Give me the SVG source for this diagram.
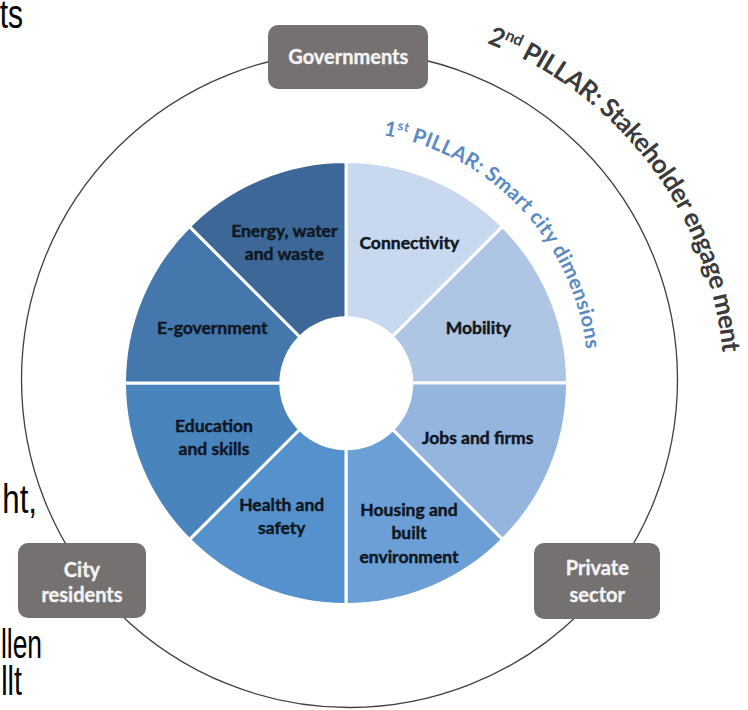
<svg xmlns="http://www.w3.org/2000/svg" width="748" height="710" viewBox="0 0 748 710">
<style>
.bg{font-family:"Liberation Sans",Arial,sans-serif;font-size:40px;fill:#000}
.wl{font-family:Lato,"Open Sans",sans-serif;font-weight:700;font-size:17.5px;fill:#0f1722;stroke:#0f1722;stroke-width:0.45;text-anchor:middle}
.box{fill:#767171}
.bt{font-family:Lato,"Open Sans",sans-serif;font-weight:700;font-size:20px;fill:#f4f4f4;stroke:#f4f4f4;stroke-width:0.35;text-anchor:middle}
.wedge{stroke:#fff;stroke-width:3;stroke-linejoin:miter}
.p2{font-family:Lato,"Open Sans",sans-serif;font-weight:700;font-size:26px;fill:#3b3b3b}
.p1{font-family:Lato,"Open Sans",sans-serif;font-weight:700;font-size:20.5px;fill:#5b8ac2}
</style>
<defs>
<path id="arc2" d="M486.7 43 A368 368 0 0 1 723 358"/>
<path id="arc1" d="M383.3 135 A247 247 0 0 1 586.5 352"/>
</defs>
<rect width="748" height="710" fill="#fff"/>
<g id="background-text">
<text class="bg" text-anchor="end" transform="translate(23 28) scale(0.75 1)">ts</text>
<text class="bg" text-anchor="end" transform="translate(37 513) scale(0.78 1)">ht,</text>
<text class="bg" text-anchor="end" transform="translate(42 658) scale(0.66 1)">llen</text>
<text class="bg" text-anchor="end" transform="translate(22 695) scale(0.72 1)">llt</text>
</g>
<g id="connectors">
<circle cx="349.5" cy="379.5" r="328" fill="none" stroke="#3f3f3f" stroke-width="1.3"/>
</g>
<g id="pillar2-label">
<text class="p2"><textPath href="#arc2" textLength="410" lengthAdjust="spacing">2<tspan font-size="16" dy="-10">nd</tspan><tspan dy="10"> PILLAR: Stakeholder engage ment</tspan></textPath></text>
</g>
<g id="pillar1-label">
<text class="p1"><textPath href="#arc1" textLength="316" lengthAdjust="spacing">1<tspan font-size="13" dy="-8">st</tspan><tspan dy="8"> PILLAR: Smart city dimensions</tspan></textPath></text>
</g>
<g id="connectivity">
<path class="wedge" fill="#c8d8ee" d="M346 383 L346 161.5 A221.5 221.5 0 0 1 502.6 226.4 Z"/>
<text class="wl" x="409.3" y="249.3">Connectivity</text>
</g>
<g id="mobility">
<path class="wedge" fill="#aec5e4" d="M346 383 L502.6 226.4 A221.5 221.5 0 0 1 567.5 383 Z"/>
<text class="wl" x="478.3" y="334.3">Mobility</text>
</g>
<g id="jobs-and-firms">
<path class="wedge" fill="#94b5de" d="M346 383 L567.5 383 A221.5 221.5 0 0 1 502.6 539.6 Z"/>
<text class="wl" x="477.7" y="444">Jobs and firms</text>
</g>
<g id="housing">
<path class="wedge" fill="#6b9fd6" d="M346 383 L502.6 539.6 A221.5 221.5 0 0 1 346 604.5 Z"/>
<text class="wl" x="409" y="515.7">Housing and</text>
<text class="wl" x="409" y="539">built</text>
<text class="wl" x="409" y="562.7">environment</text>
</g>
<g id="health">
<path class="wedge" fill="#5592cd" d="M346 383 L346 604.5 A221.5 221.5 0 0 1 189.4 539.6 Z"/>
<text class="wl" x="281.7" y="510.7">Health and</text>
<text class="wl" x="281.7" y="534">safety</text>
</g>
<g id="education">
<path class="wedge" fill="#4a84bd" d="M346 383 L189.4 539.6 A221.5 221.5 0 0 1 124.5 383 Z"/>
<text class="wl" x="214" y="432.3">Education</text>
<text class="wl" x="214" y="455">and skills</text>
</g>
<g id="e-government">
<path class="wedge" fill="#4477ab" d="M346 383 L124.5 383 A221.5 221.5 0 0 1 189.4 226.4 Z"/>
<text class="wl" x="212.3" y="334.3">E-government</text>
</g>
<g id="energy">
<path class="wedge" fill="#3c6796" d="M346 383 L189.4 226.4 A221.5 221.5 0 0 1 346 161.5 Z"/>
<text class="wl" x="284.3" y="236.7">Energy, water</text>
<text class="wl" x="284.3" y="260">and waste</text>
</g>
<circle cx="346.3" cy="383.3" r="67" fill="#fff"/>
<g id="governments">
<rect class="box" x="268" y="25" width="160" height="64" rx="10"/>
<text class="bt" x="348.3" y="64">Governments</text>
</g>
<g id="city-residents">
<rect class="box" x="18" y="543" width="128" height="75" rx="10"/>
<text class="bt" x="82" y="576.7">City</text>
<text class="bt" x="82" y="601.7">residents</text>
</g>
<g id="private-sector">
<rect class="box" x="534" y="543" width="126" height="76" rx="10"/>
<text class="bt" x="597.3" y="575">Private</text>
<text class="bt" x="597.3" y="601.7">sector</text>
</g>
</svg>
